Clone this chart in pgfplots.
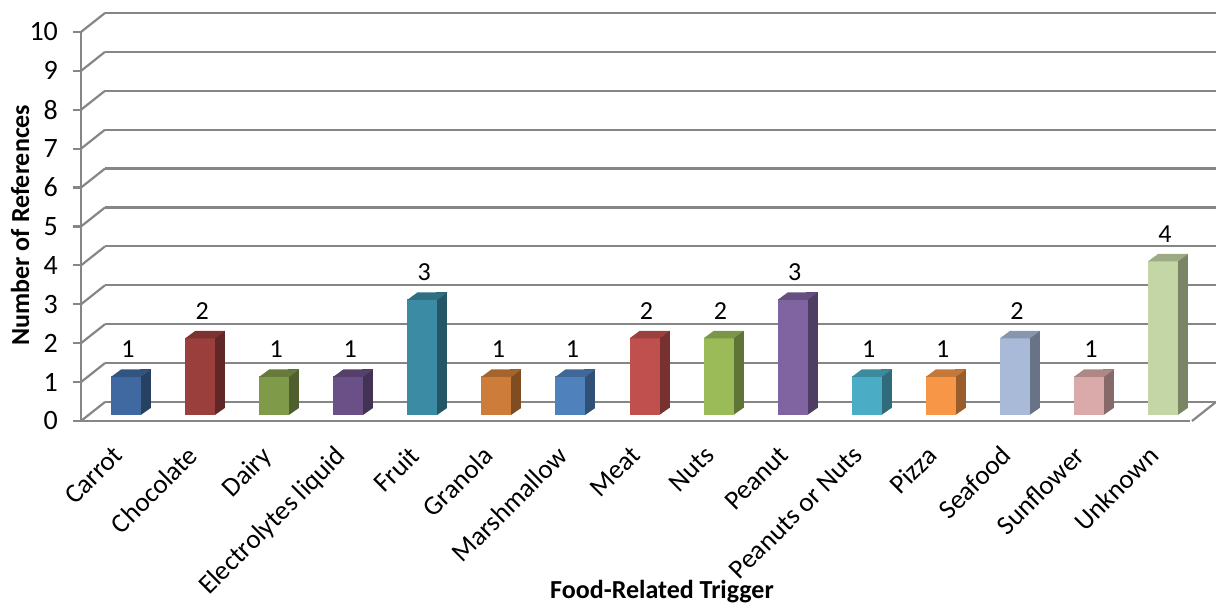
\documentclass[border=0pt]{standalone}
\usepackage{fontspec}
\setmainfont{Carlito}
\usepackage{pgfplots}
\pgfplotsset{compat=1.18}
\pgfplotsset{/pgf/number format/assume math mode=true}
\definecolor{gridc}{RGB}{134,134,134}
\definecolor{c0}{HTML}{3F69A0}
\definecolor{c1}{HTML}{9B3F3D}
\definecolor{c2}{HTML}{7F9A48}
\definecolor{c3}{HTML}{6A5086}
\definecolor{c4}{HTML}{3A8BA3}
\definecolor{c5}{HTML}{CE7C39}
\definecolor{c6}{HTML}{4F81BD}
\definecolor{c7}{HTML}{C0504D}
\definecolor{c8}{HTML}{9BBB59}
\definecolor{c9}{HTML}{8064A2}
\definecolor{c10}{HTML}{4BACC6}
\definecolor{c11}{HTML}{F79646}
\definecolor{c12}{HTML}{A9BAD9}
\definecolor{c13}{HTML}{D9AAA9}
\definecolor{c14}{HTML}{C4D6A5}
\pgfdeclareplotmark{topface}{%
  \pgfpathmoveto{\pgfpoint{-7.5pt}{-0.2pt}}%
  \pgfpathlineto{\pgfpoint{7.5pt}{-0.2pt}}%
  \pgfpathlineto{\pgfpoint{12.5pt}{3.5pt}}%
  \pgfpathlineto{\pgfpoint{-2.5pt}{3.5pt}}%
  \pgfpathclose\pgfusepathqfill}
\pgfdeclareplotmark{floorcut}{%
  \pgfpathmoveto{\pgfpoint{7.5pt}{-0.6pt}}%
  \pgfpathlineto{\pgfpoint{13.2pt}{-0.6pt}}%
  \pgfpathlineto{\pgfpoint{13.2pt}{3.5pt}}%
  \pgfpathlineto{\pgfpoint{12.5pt}{3.5pt}}%
  \pgfpathlineto{\pgfpoint{7.5pt}{0pt}}%
  \pgfpathclose\pgfusepathqfill}
% index, value, colour
\newcommand{\tdbar}[3]{%
  \addplot[ybar, bar width=5.6pt, bar shift=9.7pt, fill=#3!62!black, draw=none,
    y filter/.expression={y+0.1818}] coordinates {(#1,#2)};
  \addplot[only marks, mark=floorcut, color=white, mark options={fill=white, draw=none}] coordinates {(#1,0)};
  \addplot[ybar, bar width=15pt, bar shift=0pt, fill=#3, draw=none,
    nodes near coords,
    every node near coord/.append style={anchor=center, yshift=13.5pt, xshift=1pt,
      font=\fontsize{13}{15}\selectfont, text=black}] coordinates {(#1,#2)};
  \addplot[only marks, mark=topface, color=#3!80!black, mark options={fill=#3!80!black, draw=none}] coordinates {(#1,#2)};
}
\begin{document}
\begin{tikzpicture}[x=1pt,y=1pt]
\path[use as bounding box] (0,0) rectangle (608,302.5);
% back wall with gridlines
\begin{axis}[at={(52.5pt,101.5pt)}, anchor=south west, scale only axis,
  width=555.5pt, height=194.5pt, xmin=-0.5, xmax=14.5, ymin=0, ymax=10,
  ytick={0,...,10}, yticklabels={}, xtick=\empty,
  ymajorgrids, grid style={gridc, line width=1.1pt},
  axis line style={draw=none}, ytick style={draw=none}, clip=false]
  \pgfplotsinvokeforeach{0,...,10}{\draw[gridc, line width=1.1pt] (axis cs:-0.5,#1) -- ++(-12pt,-9.5pt);}
  \draw[gridc, line width=1.1pt] (axis cs:14.5,0) -- ++(-12pt,-9.5pt);
\end{axis}
% front axis: lines, ticks, labels
\begin{axis}[at={(40.5pt,92pt)}, anchor=south west, scale only axis,
  width=554.5pt, height=194.5pt, xmin=-0.5, xmax=14.5, ymin=0, ymax=10,
  axis x line*=bottom, axis y line*=left,
  axis line style={gridc, line width=1.1pt, -},
  ytick={0,...,10}, tick align=outside, major tick length=4pt,
  ytick style={gridc, line width=1.1pt}, xtick style={draw=none},
  yticklabel style={font=\fontsize{14}{16}\selectfont, xshift=-4pt},
  xtick={0,...,14},
  xticklabels={Carrot, Chocolate, Dairy, Electrolytes liquid, Fruit, Granola, Marshmallow, Meat, Nuts, Peanut, Peanuts or Nuts, Pizza, Seafood, Sunflower, Unknown},
  xticklabel style={xshift=-3pt, yshift=-7.5pt, rotate=45, anchor=north east, inner sep=0pt,
    font=\fontsize{13.5}{15}\selectfont},
  clip=false]
  \addplot[draw=none] coordinates {(0,0)};
\end{axis}
% bar plane
\begin{axis}[at={(44.5pt,95pt)}, anchor=south west, scale only axis,
  width=555.5pt, height=192.5pt, xmin=-0.5, xmax=14.5, ymin=0, ymax=10,
  hide axis, clip=false]
  \tdbar{0}{1}{c0}
  \tdbar{1}{2}{c1}
  \tdbar{2}{1}{c2}
  \tdbar{3}{1}{c3}
  \tdbar{4}{3}{c4}
  \tdbar{5}{1}{c5}
  \tdbar{6}{1}{c6}
  \tdbar{7}{2}{c7}
  \tdbar{8}{2}{c8}
  \tdbar{9}{3}{c9}
  \tdbar{10}{1}{c10}
  \tdbar{11}{1}{c11}
  \tdbar{12}{2}{c12}
  \tdbar{13}{1}{c13}
  \tdbar{14}{4}{c14}
\end{axis}
\node[rotate=90, font=\bfseries\fontsize{13}{15}\selectfont] at (10,190) {Number of References};
\node[font=\bfseries\fontsize{13}{15}\selectfont] at (331,6.5) {Food-Related Trigger};
\end{tikzpicture}
\end{document}
